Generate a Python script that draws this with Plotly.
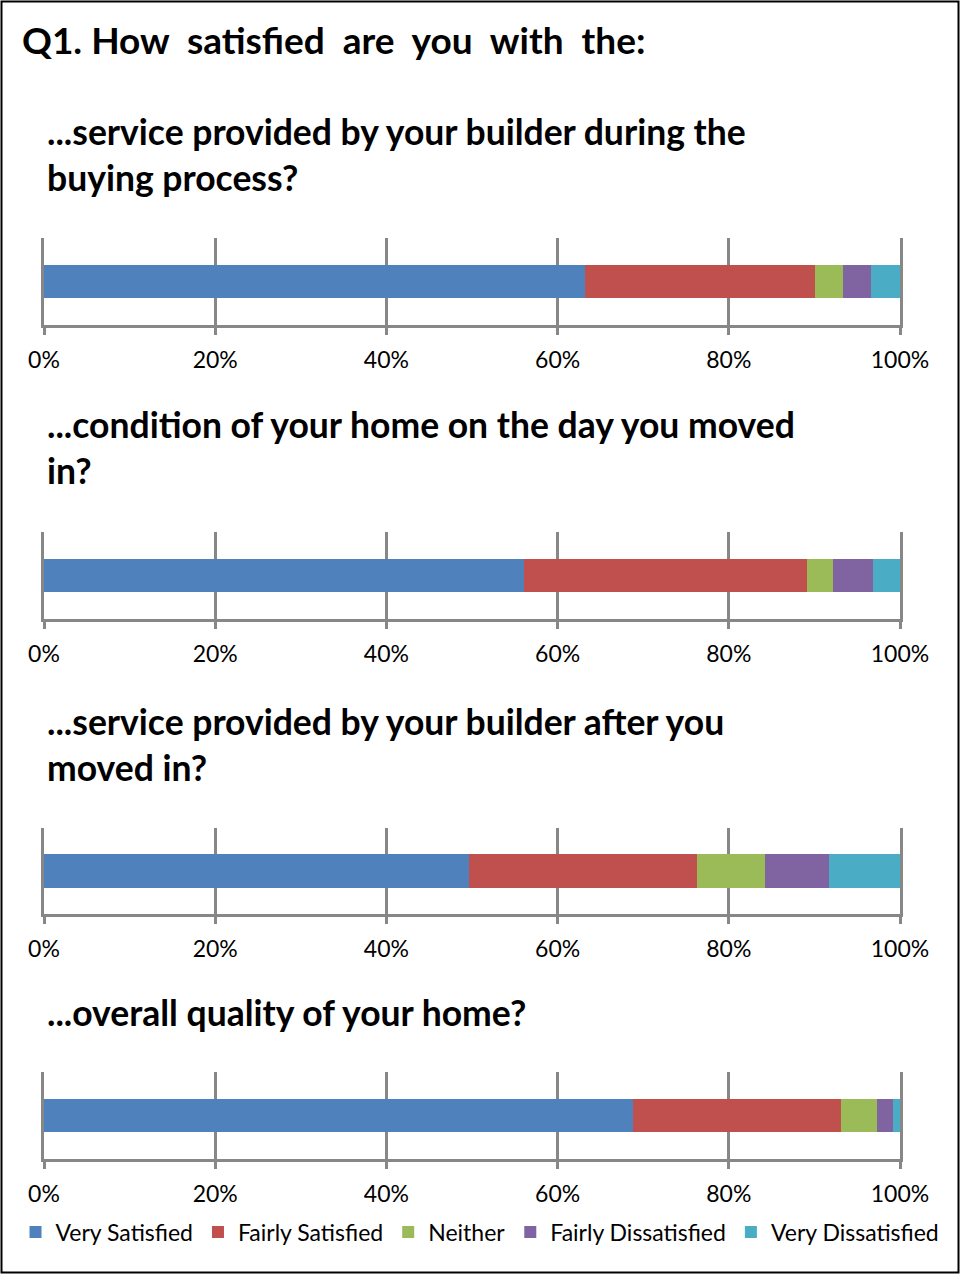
import plotly.graph_objects as go

# Survey questions (one horizontal stacked bar each)
questions = [
    "...service provided by your builder during the<br>buying process?",
    "...condition of your home on the day you moved<br>in?",
    "...service provided by your builder after you<br>moved in?",
    "...overall quality of your home?",
]

# Share of respondents (%) per answer, in question order
very_satisfied = [63.2, 56.1, 49.6, 68.8]
fairly_satisfied = [26.9, 33.0, 26.7, 24.3]
neither = [3.2, 3.1, 7.9, 4.2]
fairly_dissatisfied = [3.3, 4.6, 7.5, 1.9]
very_dissatisfied = [3.4, 3.2, 8.3, 0.8]

answers = ["Very Satisfied", "Fairly Satisfied", "Neither",
           "Fairly Dissatisfied", "Very Dissatisfied"]
series = [very_satisfied, fairly_satisfied, neither,
          fairly_dissatisfied, very_dissatisfied]
colors = ["#4F81BD", "#C0504D", "#9BBB59", "#8064A2", "#4BACC6"]

tick_values = [0, 20, 40, 60, 80, 100]
tick_labels = ["0%", "20%", "40%", "60%", "80%", "100%"]

W, H = 960, 1274
FONT = "Lato"
GRID = "#878787"

# pixel layout of each panel: (plot top, plot bottom, heading centre y)
panels = [(238, 325, 155), (532, 619, 447), (828, 914, 744), (1072, 1159, 1012)]


def py(v):
    return 1 - v / H


fig = go.Figure()
layout = dict(
    width=W, height=H,
    margin=dict(l=0, r=0, t=0, b=0, autoexpand=False),
    paper_bgcolor="white", plot_bgcolor="white",
    barmode="stack", bargap=0.61,
    font=dict(family=FONT, size=23, color="black"),
    showlegend=True,
    legend=dict(orientation="h", x=0.5, xanchor="center", y=py(1232),
                yanchor="middle", font=dict(family=FONT, size=23),
                itemwidth=30, traceorder="normal", tracegroupgap=0),
)

annotations = [dict(text="Q1. How  satisfied  are  you  with  the:", xref="paper",
                    yref="paper", x=20 / W, y=py(39), xanchor="left",
                    yanchor="middle", showarrow=False,
                    font=dict(family=FONT, size=37, weight="bold"))]

for i, (q, (top, bot, head_y)) in enumerate(zip(questions, panels)):
    n = "" if i == 0 else str(i + 1)
    for name, vals, col in zip(answers, series, colors):
        fig.add_trace(go.Bar(
            x=[vals[i]], y=[q], orientation="h", name=name,
            marker=dict(color=col, line=dict(width=0)),
            xaxis="x" + n, yaxis="y" + n,
            legendgroup=name, showlegend=(i == 0),
        ))
    layout["xaxis" + n] = dict(
        domain=[44 / W, 900 / W], range=[0, 100], anchor="y" + n,
        tickvals=tick_values, ticktext=tick_labels,
        showgrid=True, gridcolor=GRID, gridwidth=3,
        showline=True, linecolor=GRID, linewidth=3,
        ticks="outside", ticklen=7, tickwidth=3, tickcolor=GRID,
        tickfont=dict(family=FONT, size=23, color="black"),
        ticklabelstandoff=5, zeroline=False, fixedrange=True,
        automargin=False,
    )
    layout["yaxis" + n] = dict(
        domain=[py(bot), py(top)], anchor="x" + n, range=[-0.5, 0.5],
        showticklabels=False, showgrid=False, zeroline=False,
        showline=True, mirror=True, linecolor=GRID, linewidth=3,
        ticks="", fixedrange=True, automargin=False,
    )
    annotations.append(dict(
        text=q, xref="paper", yref="paper", x=45 / W, y=py(head_y),
        xanchor="left", yanchor="middle", align="left", showarrow=False,
        font=dict(family=FONT, size=35.5, weight="bold"),
    ))

layout["annotations"] = annotations
layout["shapes"] = [dict(type="rect", xref="paper", yref="paper",
                         x0=1.5 / W, x1=1 - 1.5 / W, y0=1.5 / H, y1=1 - 1.5 / H,
                         line=dict(color="black", width=2), layer="above")]
fig.update_layout(**layout)
fig.write_html("out.html")
